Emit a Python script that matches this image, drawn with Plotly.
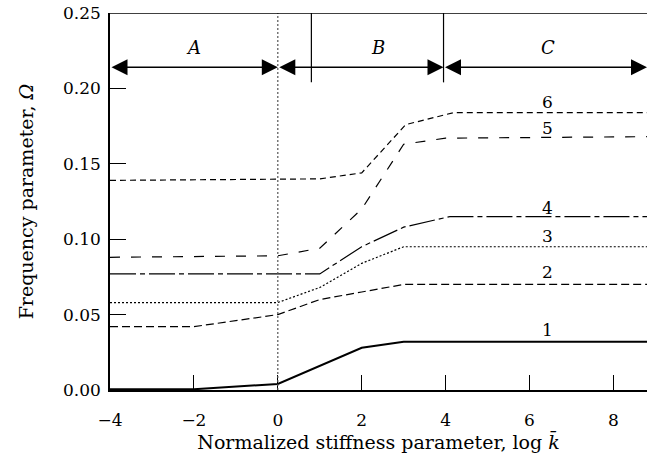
import plotly.graph_objects as go

# ---- data ----
c1_x = [-4, -2, 0, 2, 3, 8.8]
c1_y = [0.0005, 0.0005, 0.004, 0.028, 0.032, 0.032]
c2_x = [-4, -2, 0, 1, 2, 3, 8.8]
c2_y = [0.042, 0.042, 0.050, 0.060, 0.065, 0.070, 0.070]
c3_x = [-4, 0, 1, 2, 3, 8.8]
c3_y = [0.058, 0.058, 0.068, 0.084, 0.095, 0.095]
c4_x = [-4, 1, 2, 3, 4.1, 8.8]
c4_y = [0.077, 0.077, 0.095, 0.108, 0.115, 0.115]
c5_x = [-4, 0, 1, 2, 3, 4, 8.8]
c5_y = [0.088, 0.089, 0.094, 0.120, 0.163, 0.167, 0.168]
c6_x = [-4, 0, 1, 2, 3.05, 4.2, 8.8]
c6_y = [0.139, 0.140, 0.140, 0.144, 0.176, 0.184, 0.184]

curve_labels = ["1", "2", "3", "4", "5", "6"]
curve_label_x = 6.43
curve_label_y = [0.040, 0.078, 0.102, 0.121, 0.174, 0.191]

region_names = ["A", "B", "C"]
region_bounds = [-4, 0, 3.95, 8.8]
region_label_x = [-2.0, 2.38, 6.43]
region_label_y = 0.227
arrow_y = 0.214
region_div_x = [0.8, 3.95]
region_div_bottom = 0.204

x_ticks = [-4, -2, 0, 2, 4, 6, 8]
y_ticks = [0.00, 0.05, 0.10, 0.15, 0.20, 0.25]

FONT = "DejaVu Serif"
fig = go.Figure()

styles = [
    (c1_x, c1_y, "solid", 2.0),
    (c2_x, c2_y, "8px,4px", 1.2),
    (c3_x, c3_y, "2px,2px", 1.2),
    (c4_x, c4_y, "26px,4px,5px,4px", 1.2),
    (c5_x, c5_y, "10px,11px", 1.2),
    (c6_x, c6_y, "6px,4px", 1.2),
]
for xs, ys, dash, w in styles:
    fig.add_trace(go.Scatter(x=xs, y=ys, mode="lines",
                             line=dict(color="black", width=w, dash=dash),
                             showlegend=False, hoverinfo="skip"))

# dotted vertical at x=0
fig.add_shape(type="line", x0=0, x1=0, y0=0, y1=0.25, xref="x", yref="y",
              line=dict(color="#555", width=1.2, dash="2px,2px"))
# region divider lines
for xv in region_div_x:
    fig.add_shape(type="line", x0=xv, x1=xv, y0=region_div_bottom, y1=0.25,
                  xref="x", yref="y", line=dict(color="black", width=1.2))
# top frame line
fig.add_shape(type="line", x0=-4, x1=8.8, y0=0.25, y1=0.25, xref="x", yref="y",
              line=dict(color="black", width=1.5))

# region arrows
for i in range(3):
    fig.add_annotation(x=region_bounds[i + 1], y=arrow_y, ax=region_bounds[i], ay=arrow_y,
                       xref="x", yref="y", axref="x", ayref="y", text="",
                       showarrow=True, arrowhead=2, arrowside="end+start",
                       arrowsize=2, arrowwidth=1.6, arrowcolor="black", standoff=0, startstandoff=0)
    fig.add_annotation(x=region_label_x[i], y=region_label_y, text=f"<i>{region_names[i]}</i>",
                       showarrow=False, font=dict(family=FONT, size=18, color="black"))

for lab, ly in zip(curve_labels, curve_label_y):
    fig.add_annotation(x=curve_label_x, y=ly, text=lab, showarrow=False,
                       font=dict(family=FONT, size=17, color="black"))

fig.update_layout(
    width=647, height=453,
    margin=dict(l=110, r=0, t=13, b=63),
    paper_bgcolor="white", plot_bgcolor="white",
    font=dict(family=FONT, size=17, color="black"),
    xaxis=dict(range=[-4, 8.8], tickvals=x_ticks, ticktext=[f"{v:g}".replace("-", "\u2212") for v in x_ticks],
               ticks="inside", ticklen=15, tickwidth=1.2, tickcolor="black",
               showline=True, linecolor="black", linewidth=1.5, showgrid=False, zeroline=False,
               title=dict(text="Normalized stiffness parameter, log <i>k\u0304</i>", standoff=2,
                          font=dict(family=FONT, size=19)),
               ticklabelstandoff=14),
    yaxis=dict(range=[0, 0.25], tickvals=y_ticks, ticktext=[f"{v:.2f}" for v in y_ticks],
               ticks="inside", ticklen=16, tickwidth=1.2, tickcolor="black",
               showline=True, linecolor="black", linewidth=1.5, showgrid=False, zeroline=False,
               title=dict(text="Frequency parameter, <i>\u03a9</i>", standoff=24,
                          font=dict(family=FONT, size=19)),
               ticklabelstandoff=4),
)

fig.write_html("out.html", config={"displayModeBar": False},
               post_script="document.body.style.margin='0px';document.body.style.overflow='hidden';")
